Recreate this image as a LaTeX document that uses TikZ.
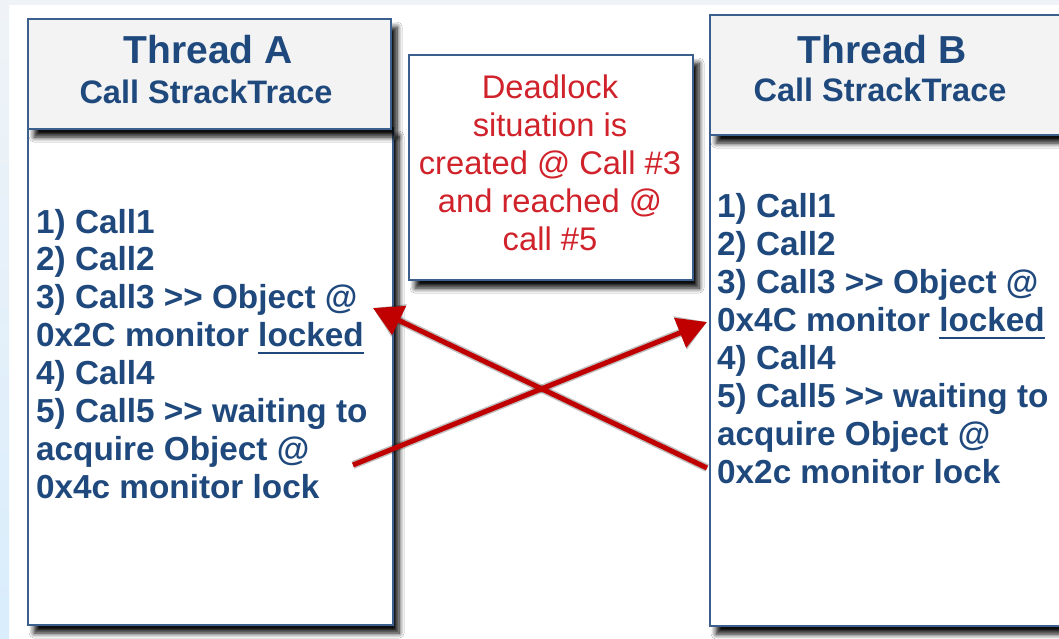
\documentclass[tikz,border=0pt]{standalone}
\usepackage{fontspec}
\setmainfont{Liberation Sans}
\usetikzlibrary{arrows.meta,shadows.blur}

\definecolor{callnavy}{RGB}{31,73,125}
\definecolor{frameblue}{RGB}{60,96,142}
\definecolor{noteRed}{RGB}{208,34,42}
\definecolor{arrowRed}{RGB}{192,0,0}
\definecolor{pagetop}{RGB}{239,243,247}
\definecolor{pageside}{RGB}{217,237,252}
\definecolor{headgray}{RGB}{243,243,243}

% underline drawn as a rule below the word
\newcommand\lockword[1]{\setbox0\hbox{#1}\rlap{\rule[-7.5pt]{\wd0}{2.2pt}}\box0}
% two separate greater-than signs (no guillemet ligature)
\newcommand\gtgt{>{}>}

\tikzset{
  boxshadow/.style={blur shadow={shadow xshift=6pt, shadow yshift=-8pt,
      shadow blur radius=5pt, shadow blur steps=10, shadow opacity=95}},
  panel/.style={draw=frameblue, line width=2.2pt, fill=white, anchor=north west,
      inner sep=0pt, boxshadow},
  headbox/.style={panel, fill=headgray},
  titletext/.style={anchor=base, inner sep=0pt, text=callnavy,
      font=\fontsize{39}{45}\selectfont\bfseries},
  subtext/.style={anchor=base, inner sep=0pt, text=callnavy,
      font=\fontsize{32.5}{38}\selectfont\bfseries},
  calltext/.style={anchor=base west, inner sep=0pt, text=callnavy,
      font=\fontsize{33.3}{38}\selectfont\bfseries},
  notetext/.style={anchor=base, inner sep=0pt, text=noteRed,
      font=\fontsize{32.7}{38}\selectfont},
  lockarrow/.style={draw=arrowRed, line width=5pt,
      -{Triangle[length=29pt,width=31pt]}},
  arrowshade/.style={draw=black, draw opacity=0.25, line width=8pt,
      -{Triangle[length=29pt,width=34pt]}, fill opacity=0.25,
      xshift=4pt, yshift=-7pt},
}

\begin{document}
\begin{tikzpicture}[x=1pt,y=-1pt]
  \useasboundingbox (0,0) rectangle (1059,639);

  % page background
  \fill[white] (0,0) rectangle (1059,639);
  \fill[pagetop] (0,0) rectangle (1059,5);
  \shade[top color=pagetop, bottom color=pageside] (0,5) rectangle (9,639);

  % Thread A panel
  \node[panel, minimum width=365pt, minimum height=497pt] (bodyA) at (27,127) {};
  \node[headbox, minimum width=363pt, minimum height=110pt] (headA) at (27,18) {};
  \node[titletext] (titleA) at (208,64) {Thread A};
  \node[subtext] (subA) at (206,104) {Call StrackTrace};

  % Thread B panel
  \node[panel, minimum width=380pt, minimum height=492pt] (bodyB) at (709,133) {};
  \node[headbox, minimum width=380pt, minimum height=120pt] (headB) at (709,14) {};
  \node[titletext] (titleB) at (882,64) {Thread B};
  \node[subtext] (subB) at (880,102) {Call StrackTrace};

  % note between the panels
  \node[panel, minimum width=284pt, minimum height=225pt] (note) at (408,54) {};
  \node[notetext] (n1) at (550,98.5) {Deadlock};
  \node[notetext] (n2) at (550,136.7) {situation is};
  \node[notetext] (n3) at (550,174.8) {created @ Call \#3};
  \node[notetext] (n4) at (550,212.8) {and reached @};
  \node[notetext] (n5) at (550,250.8) {call \#5};

  % call stack of thread A
  \node[calltext] (a1) at (36,233.0) {1) Call1};
  \node[calltext] (a2) at (36,270.9) {2) Call2};
  \node[calltext] (a3) at (36,308.8) {3) Call3 \gtgt{} Object @};
  \node[calltext] (a4) at (36,346.7) {0x2C monitor \lockword{locked}};
  \node[calltext] (a5) at (36,384.6) {4) Call4};
  \node[calltext] (a6) at (36,422.5) {5) Call5 \gtgt{} waiting to};
  \node[calltext] (a7) at (36,460.4) {acquire Object @};
  \node[calltext] (a8) at (36,498.3) {0x4c monitor lock};

  % call stack of thread B
  \node[calltext] (b1) at (717,217.0) {1) Call1};
  \node[calltext] (b2) at (717,255.1) {2) Call2};
  \node[calltext] (b3) at (717,293.2) {3) Call3 \gtgt{} Object @};
  \node[calltext] (b4) at (717,331.3) {0x4C monitor \lockword{locked}};
  \node[calltext] (b5) at (717,369.4) {4) Call4};
  \node[calltext] (b6) at (717,407.5) {5) Call5 \gtgt{} waiting to};
  \node[calltext] (b7) at (717,445.6) {acquire Object @};
  \node[calltext] (b8) at (717,483.7) {0x2c monitor lock};

  % arrow ends
  \coordinate (waitA) at (353,465);
  \coordinate (heldB) at (707,322);
  \coordinate (waitB) at (707,468);
  \coordinate (heldA) at (373,308);

  % crossing lock arrows with soft shadows
  \draw[arrowshade] (waitA) -- (heldB);
  \draw[arrowshade] (waitB) -- (heldA);
  \draw[lockarrow, fill=arrowRed] (waitB) -- (heldA);
  \draw[lockarrow, fill=arrowRed] (waitA) -- (heldB);
\end{tikzpicture}
\end{document}
